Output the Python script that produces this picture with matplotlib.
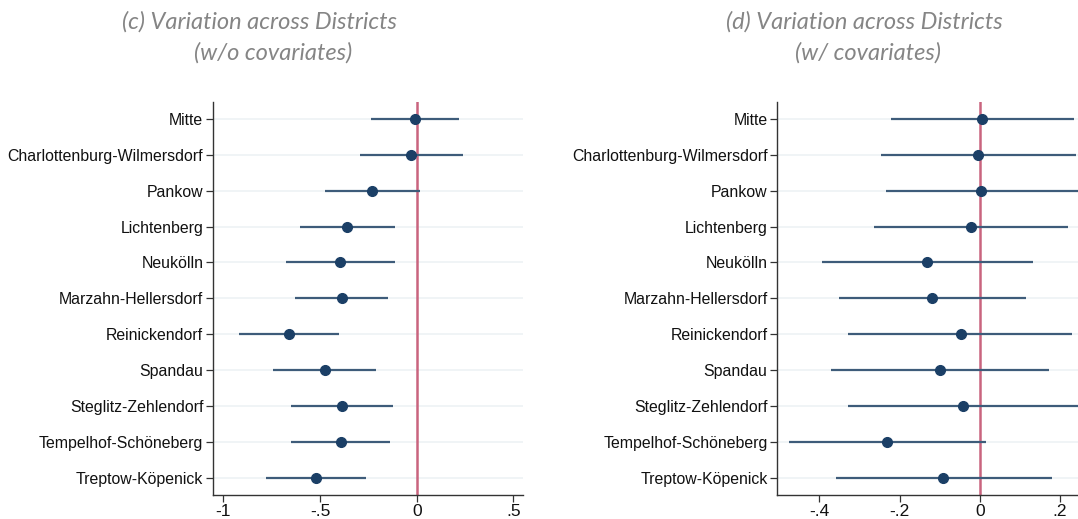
import matplotlib.pyplot as plt

# districts, top to bottom
districts = [
    "Mitte", "Charlottenburg-Wilmersdorf", "Pankow", "Lichtenberg", "Neukölln",
    "Marzahn-Hellersdorf", "Reinickendorf", "Spandau", "Steglitz-Zehlendorf",
    "Tempelhof-Schöneberg", "Treptow-Köpenick",
]

# (c) w/o covariates
est_c = [-0.009, -0.03, -0.23, -0.359, -0.395, -0.386, -0.66, -0.474, -0.386, -0.392, -0.523]
lo_c = [-0.238, -0.292, -0.473, -0.605, -0.678, -0.63, -0.918, -0.742, -0.652, -0.649, -0.78]
hi_c = [0.217, 0.238, 0.015, -0.112, -0.112, -0.147, -0.402, -0.209, -0.124, -0.137, -0.264]

# (d) w/ covariates
est_d = [0.0065, -0.004, 0.004, -0.022, -0.131, -0.118, -0.048, -0.1, -0.043, -0.231, -0.091]
lo_d = [-0.222, -0.247, -0.234, -0.263, -0.393, -0.351, -0.329, -0.371, -0.329, -0.476, -0.359]
hi_d = [0.236, 0.239, 0.26, 0.221, 0.133, 0.115, 0.231, 0.172, 0.26, 0.016, 0.179]

ticks_c = [-1, -0.5, 0, 0.5]
ticklabels_c = ["-1", "-.5", "0", ".5"]
ticks_d = [-0.4, -0.2, 0, 0.2]
ticklabels_d = ["-.4", "-.2", "0", ".2"]

point_col = "#1b3f66"
ci_col = "#3e5c7a"
ref_col = "#c9647e"
grid_col = "#eef2f5"

fig = plt.figure(figsize=(10.78, 5.19), dpi=100)
ax1 = fig.add_axes([213 / 1078, 24 / 519, 310 / 1078, 393.3 / 519])
ax2 = fig.add_axes([777.3 / 1078, 24 / 519, 300.7 / 1078, 393.3 / 519])

ypos = list(range(1, len(districts) + 1))


def draw(ax, est, lo, hi, xlim, ticks, labels):
    for y in ypos:
        ax.axhline(y, color=grid_col, lw=1.2, zorder=0)
    ax.axvline(0, color=ref_col, lw=1.8, zorder=1)
    ax.hlines(ypos, lo, hi, color=ci_col, lw=1.6, zorder=2)
    ax.plot(est, ypos, "o", color=point_col, ms=7, zorder=3)
    ax.set_xlim(*xlim)
    ax.set_ylim(len(districts) + 0.48, 0.52)
    ax.set_yticks(ypos)
    ax.set_yticklabels(districts, family="Liberation Sans", fontsize=11.4, color="#111111")
    ax.set_xticks(ticks)
    ax.set_xticklabels(labels, family="Liberation Sans", fontsize=12.5, color="#111111")
    ax.tick_params(axis="both", direction="out", length=5, color="#333333", width=0.9)
    ax.tick_params(axis="y", pad=2)
    ax.tick_params(axis="x", pad=1.5)
    for s in ["top", "right"]:
        ax.spines[s].set_visible(False)
    for s in ["left", "bottom"]:
        ax.spines[s].set_color("#333333")
        ax.spines[s].set_linewidth(1.0)


draw(ax1, est_c, lo_c, hi_c, (-1.054, 0.55), ticks_c, ticklabels_c)
draw(ax2, est_d, lo_d, hi_d, (-0.505, 0.245), ticks_d, ticklabels_d)

title_kw = dict(family="Lato", style="italic", fontsize=17,
                color="#858585", ha="center", va="baseline")
fig.text(259.5 / 1078, 1 - 29 / 519, "(c) Variation across Districts", **title_kw)
fig.text(273.5 / 1078, 1 - 60 / 519, "(w/o covariates)", **title_kw)
fig.text(864 / 1078, 1 - 29 / 519, "(d) Variation across Districts", **title_kw)
fig.text(868 / 1078, 1 - 60 / 519, "(w/ covariates)", **title_kw)

fig.savefig("out.png", dpi=100)
